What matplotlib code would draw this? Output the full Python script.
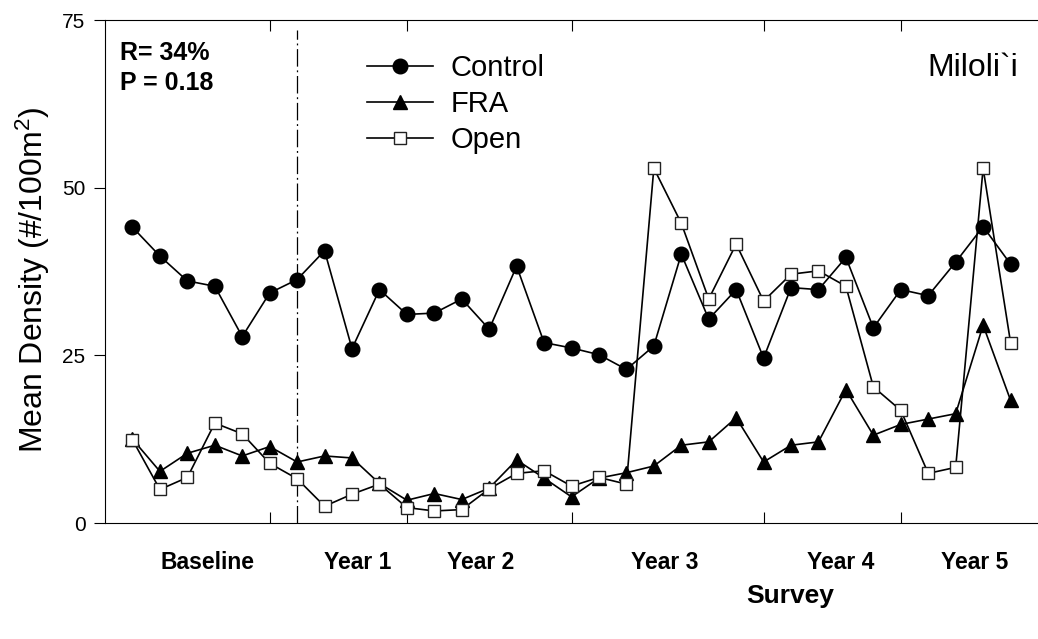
import matplotlib.pyplot as plt

plt.rcParams['font.family'] = ['Liberation Sans', 'DejaVu Sans']
plt.rcParams['mathtext.default'] = 'regular'

# survey number 1..33
survey = list(range(1, 34))
control = [44.1, 39.8, 36.1, 35.3, 27.8, 34.3, 36.3, 40.6, 26.0, 34.8, 31.1,
           31.3, 33.4, 28.9, 38.3, 26.9, 26.1, 25.1, 22.9, 26.4, 40.1, 30.4,
           34.8, 24.6, 35.1, 34.8, 39.6, 29.1, 34.8, 33.9, 38.9, 44.2, 38.6]
fra = [12.5, 7.7, 10.4, 11.6, 10.0, 11.4, 9.1, 10.0, 9.7, 5.9, 3.4,
       4.4, 3.5, 5.2, 9.4, 6.7, 3.9, 6.7, 7.5, 8.5, 11.6, 12.1,
       15.7, 9.1, 11.6, 12.1, 19.9, 13.1, 14.7, 15.5, 16.3, 29.5, 18.3]
open_plots = [12.4, 5.0, 6.8, 14.9, 13.3, 8.9, 6.6, 2.5, 4.3, 5.8, 2.3,
              1.8, 2.0, 5.1, 7.4, 7.8, 5.5, 6.8, 5.8, 52.9, 44.7, 33.4,
              41.6, 33.1, 37.1, 37.6, 35.3, 20.3, 16.8, 7.4, 8.3, 52.9, 26.9]

period_bounds = [6, 11, 17, 24, 29]
period_labels = ['Baseline', 'Year 1', 'Year 2', 'Year 3', 'Year 4', 'Year 5']
period_label_pos = [3.75, 9.2, 13.7, 20.4, 26.8, 31.7]
treatment_start = 7

fig = plt.figure(figsize=(10.38, 6.39), dpi=100)
ax = fig.add_axes([0.1012, 0.1815, 0.8988, 0.7872])

ax.plot(survey, control, 'k-', marker='o', ms=10.5, lw=1.2, label='Control', zorder=4)
ax.plot(survey, fra, 'k-', marker='^', ms=10.5, lw=1.2, label='FRA', zorder=2)
ax.plot(survey, open_plots, 'k-', marker='s', ms=9, mfc='white', mec='#222222',
        mew=1.0, lw=1.2, label='Open', zorder=3)

ax.vlines(treatment_start, 0, 73.5, colors='k', lw=0.9, linestyles=(0, (14, 3, 1.5, 3)))

ax.set_xlim(0, 34)
ax.set_ylim(0, 75)
ax.set_xticks(period_bounds)
ax.set_xticklabels([])
ax.set_xticks(period_label_pos, minor=True)
ax.set_xticklabels(period_labels, minor=True, fontweight='bold', fontsize=16.5)
ax.tick_params(axis='x', which='major', direction='in', length=8, top=True)
ax.tick_params(axis='x', which='minor', length=0, pad=20)
ax.set_yticks([0, 25, 50, 75])
ax.tick_params(axis='y', direction='out', length=8, labelsize=15, pad=6)
ax.spines['right'].set_visible(False)

ax.set_ylabel('Mean Density (#/100m$^2$)', fontsize=23)
ax.yaxis.set_label_coords(-0.057, 0.483)
fig.text(790 / 1038, 1 - 596 / 639, 'Survey', fontsize=19, fontweight='bold',
         ha='center', va='center')

fig.text(120 / 1038, 1 - 41 / 639, 'R= 34%', fontsize=18, fontweight='bold', va='top')
fig.text(120 / 1038, 1 - 71 / 639, 'P = 0.18', fontsize=18, fontweight='bold', va='top')
fig.text(1018 / 1038, 1 - 68 / 639, 'Miloli`i', fontsize=23, ha='right', va='center')

ax.legend(loc='upper left', bbox_to_anchor=(0.281, 0.932), frameon=False, fontsize=21,
          handlelength=2.25, handletextpad=0.6, labelspacing=0.27,
          borderpad=0, borderaxespad=0)

fig.savefig('out.png', dpi=100)
